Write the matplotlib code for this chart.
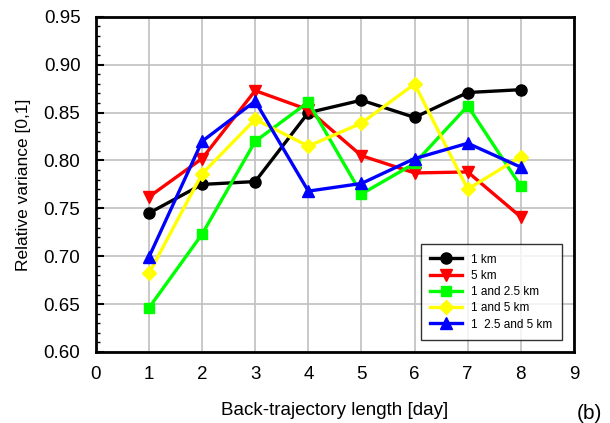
import matplotlib
matplotlib.use('Agg')
import matplotlib.pyplot as plt
from matplotlib.ticker import MultipleLocator

plt.rcParams['font.family'] = ['Liberation Sans', 'DejaVu Sans']

# back-trajectory length [day]
days = [1, 2, 3, 4, 5, 6, 7, 8]

v_1km = [0.745, 0.775, 0.778, 0.850, 0.863, 0.845, 0.871, 0.874]
v_5km = [0.762, 0.802, 0.873, 0.853, 0.805, 0.787, 0.788, 0.741]
v_1_25km = [0.646, 0.723, 0.820, 0.861, 0.765, 0.797, 0.857, 0.773]
v_1_5km = [0.682, 0.786, 0.843, 0.815, 0.839, 0.880, 0.770, 0.804]
v_1_25_5km = [0.699, 0.820, 0.862, 0.768, 0.776, 0.802, 0.818, 0.793]

labels = ['1 km', '5 km', '1 and 2.5 km', '1 and 5 km', '1  2.5 and 5 km']

fig = plt.figure(figsize=(6.1, 4.23), dpi=100)
ax = fig.add_axes([0.157, 0.168, 0.784, 0.792])

lw = 2.4
ms = 8
ax.plot(days, v_1km, color='black', marker='o', lw=lw, ms=ms, label=labels[0])
ax.plot(days, v_5km, color='red', marker='v', lw=lw, ms=ms, label=labels[1])
ax.plot(days, v_1_25km, color='#00ff00', marker='s', lw=lw, ms=ms-1, label=labels[2])
ax.plot(days, v_1_5km, color='yellow', marker='D', lw=lw, ms=ms-1, label=labels[3])
ax.plot(days, v_1_25_5km, color='blue', marker='^', lw=lw, ms=ms, label=labels[4])

ax.set_xlim(0, 9)
ax.set_ylim(0.60, 0.95)
ax.xaxis.set_major_locator(MultipleLocator(1))
ax.yaxis.set_major_locator(MultipleLocator(0.05))
ax.yaxis.set_minor_locator(MultipleLocator(0.01))
ax.yaxis.set_major_formatter(plt.FormatStrFormatter('%.2f'))
ax.grid(True, color='#c0c0c0', lw=1.2)
ax.set_axisbelow(True)

ax.tick_params(axis='y', which='major', direction='in', length=6, width=1.5, labelsize=13.5, pad=11)
ax.tick_params(axis='y', which='minor', direction='in', length=3, width=1)
ax.tick_params(axis='x', length=0, labelsize=13.5, pad=10)
for s in ax.spines.values():
    s.set_linewidth(2)

ax.set_xlabel('Back-trajectory length [day]', fontsize=13.5, labelpad=14)
ax.set_ylabel('Relative variance [0,1]', fontsize=12.5, labelpad=9)
fig.text(0.967, 0.0, '(b)', fontsize=15, ha='center', va='bottom')

leg = ax.legend(loc='lower right', fontsize=8.5, frameon=True, fancybox=False,
                edgecolor='black', handlelength=2.7, borderpad=0.8,
                labelspacing=0.36, bbox_to_anchor=(0.9875, 0.018))
leg.get_frame().set_linewidth(1)

fig.savefig('out.png', dpi=100)
